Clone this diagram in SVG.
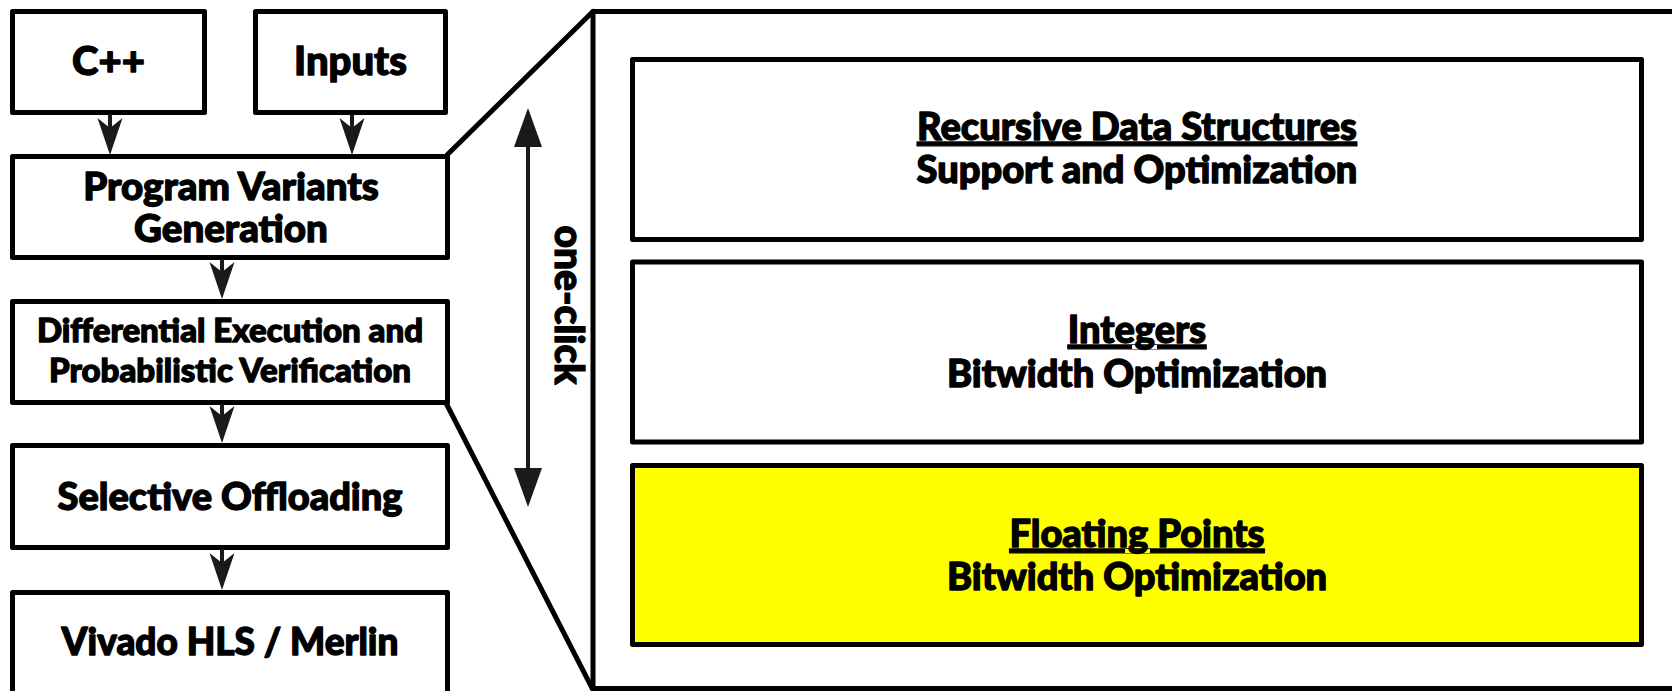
<svg xmlns="http://www.w3.org/2000/svg" width="1672" height="691" viewBox="0 0 1672 691">
<style>
.box{fill:#fff;stroke:#000;stroke-width:5;stroke-linejoin:round}
.hl{fill:#ffff00}
.t{font-family:Lato,"Liberation Sans",sans-serif;font-weight:900;fill:#000;stroke:#000;stroke-width:1.3;stroke-linejoin:round;text-anchor:middle}
.conn{stroke:#1a1a1a;stroke-width:4;fill:none}
.zoom{stroke:#000;stroke-width:5;fill:none;stroke-linecap:round}
</style>
<defs>
<marker id="ah" viewBox="-25 -14 42 28" refX="0" refY="0" markerWidth="42" markerHeight="28" markerUnits="userSpaceOnUse" orient="auto">
<path d="M15,0 L-22,-12.5 L-12,0 L-22,12.5 Z" fill="#1a1a1a"/>
</marker>
<marker id="tri" viewBox="-22 -15 44 30" refX="0" refY="0" markerWidth="44" markerHeight="30" markerUnits="userSpaceOnUse" orient="auto-start-reverse">
<path d="M20,0 L-19,-14 L-19,14 Z" fill="#1a1a1a"/>
</marker>
</defs>

<g id="panel">
<rect class="box" x="593" y="11.5" width="1100" height="677"/>
</g>
<g id="zoom-lines">
<line class="zoom" x1="447" y1="155" x2="593" y2="11.5"/>
<line class="zoom" x1="446" y1="403" x2="593" y2="690"/>
</g>

<g id="cpp">
<rect class="box" x="12.5" y="11.5" width="192" height="101"/>
<text class="t" x="108.5" y="75" font-size="40">C++</text>
</g>
<g id="inputs">
<rect class="box" x="255.5" y="11.5" width="190" height="101"/>
<text class="t" x="350.5" y="75" font-size="40">Inputs</text>
</g>
<g id="variants">
<rect class="box" x="12.5" y="156.5" width="435" height="101"/>
<text class="t" x="231" y="200" font-size="38.5">Program Variants</text>
<text class="t" x="231" y="242" font-size="38.5">Generation</text>
</g>
<g id="diffexec">
<rect class="box" x="12.5" y="301.5" width="435" height="101"/>
<text class="t" x="230" y="342" font-size="33">Differential Execution and</text>
<text class="t" x="230" y="382" font-size="33">Probabilistic Verification</text>
</g>
<g id="offload">
<rect class="box" x="12.5" y="445.5" width="435" height="102"/>
<text class="t" x="230" y="510" font-size="38">Selective Offloading</text>
</g>
<g id="vivado">
<rect class="box" x="12.5" y="592.5" width="435" height="120"/>
<text class="t" x="230" y="655" font-size="37">Vivado HLS / Merlin</text>
</g>

<g id="rds">
<rect class="box" x="632.5" y="59.5" width="1009" height="180"/>
<text class="t" x="1137" y="140" font-size="38" text-decoration="underline">Recursive Data Structures</text>
<text class="t" x="1137" y="183" font-size="38">Support and Optimization</text>
</g>
<g id="integers">
<rect class="box" x="632.5" y="262" width="1009" height="180"/>
<text class="t" x="1137" y="343" font-size="38" text-decoration="underline">Integers</text>
<text class="t" x="1137" y="387" font-size="38">Bitwidth Optimization</text>
</g>
<g id="floats">
<rect class="box hl" x="632.5" y="465.5" width="1009" height="179"/>
<text class="t" x="1137" y="547" font-size="38" text-decoration="underline">Floating Points</text>
<text class="t" x="1137" y="590" font-size="38">Bitwidth Optimization</text>
</g>

<g id="oneclick">
<text class="t" transform="translate(555,305) rotate(90)" font-size="39">one-click</text>
</g>

<g id="connectors">
<line class="conn" x1="110" y1="114" x2="110" y2="140" marker-end="url(#ah)"/>
<line class="conn" x1="352" y1="114" x2="352" y2="140" marker-end="url(#ah)"/>
<line class="conn" x1="222" y1="259" x2="222" y2="284" marker-end="url(#ah)"/>
<line class="conn" x1="222" y1="404" x2="222" y2="428" marker-end="url(#ah)"/>
<line class="conn" x1="222" y1="549" x2="222" y2="575" marker-end="url(#ah)"/>
<line class="conn" x1="528" y1="128" x2="528" y2="487" marker-start="url(#tri)" marker-end="url(#tri)"/>
</g>
</svg>
